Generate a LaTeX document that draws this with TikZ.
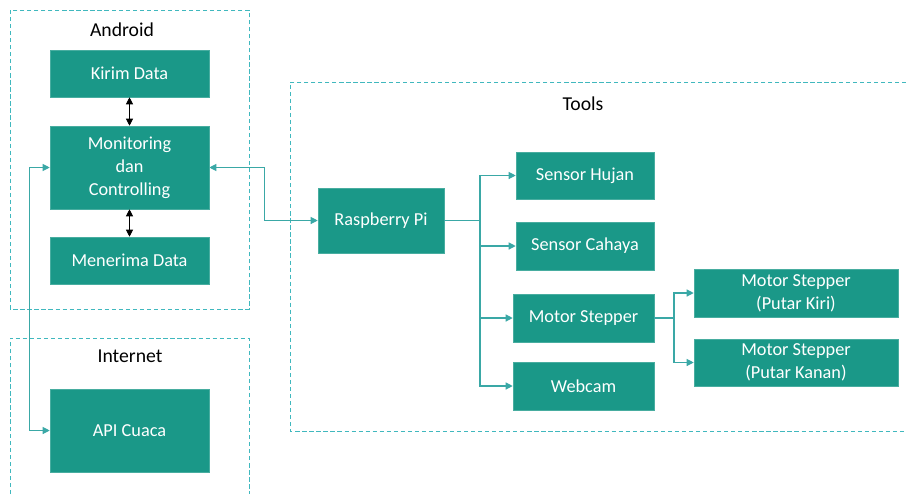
\documentclass[tikz,border=0pt]{standalone}
\usepackage{fontspec}
\setmainfont{Carlito}
\usepackage{tikz}
\usetikzlibrary{arrows.meta}
\definecolor{boxteal}{RGB}{26,152,136}
\definecolor{lineteal}{RGB}{58,168,166}
\definecolor{frameteal}{RGB}{64,184,190}
\def\px{0.025cm}

\begin{document}
\begin{tikzpicture}[x=\px, y=-\px, >={Triangle[length=5pt,width=5pt]}]
		\tikzstyle{box}=[rectangle,fill=boxteal,draw=boxteal!80!white,inner sep=0pt, text=white, align=center, font=\fontsize{13}{16.5}\selectfont]
		\tikzstyle{frame}=[draw=frameteal, dash pattern=on 3pt off 2pt, line width=0.6pt]
		\tikzstyle{title}=[font=\fontsize{14}{16}\selectfont]
		\tikzstyle{link}=[draw=lineteal, line width=0.8pt]

		\useasboundingbox (0,0) rectangle (906,494);

		% Draw frames
		\draw[frame] (10,10) rectangle (249,309);
		\draw[frame] (10,494) -- (10,338) -- (249,338) -- (249,494);
		\draw[frame] (906,82) -- (290,82) -- (290,431) -- (906,431);
		\node[title] (android) at (122,30) {Android};
		\node[title] (internet) at (130,356) {Internet};
		\node[title] (tools) at (583,104) {Tools};

		% Draw boxes
		\node[box, minimum width=159*\px, minimum height=47*\px] (kirim) at (129.5,73.5) {Kirim Data};
		\node[box, minimum width=159*\px, minimum height=83*\px] (monitor) at (129.5,167.5) {Monitoring\\dan\\Controlling};
		\node[box, minimum width=159*\px, minimum height=47*\px] (terima) at (129.5,260.5) {Menerima Data};
		\node[box, minimum width=159*\px, minimum height=83*\px] (api) at (129.5,430.5) {API Cuaca};
		\node[box, minimum width=126*\px, minimum height=65*\px] (rasp) at (381,220.5) {Raspberry Pi};
		\node[box, minimum width=138*\px, minimum height=47*\px] (hujan) at (585,175.5) {Sensor Hujan};
		\node[box, minimum width=138*\px, minimum height=48*\px] (cahaya) at (585,246) {Sensor Cahaya};
		\node[box, minimum width=141*\px, minimum height=48*\px] (motor) at (583.5,318) {Motor Stepper};
		\node[box, minimum width=141*\px, minimum height=48*\px] (webcam) at (583.5,386) {Webcam};
		\node[box, minimum width=204*\px, minimum height=48*\px] (kiri) at (796,293) {Motor Stepper\\(Putar Kiri)};
		\node[box, minimum width=204*\px, minimum height=47*\px] (kanan) at (796,362.5) {Motor Stepper\\(Putar Kanan)};

		% Draw arrows
		\draw[<->, line width=0.6pt] (kirim) -- (monitor);
		\draw[<->, line width=0.6pt] (monitor) -- (terima);
		\draw[link, <->] (monitor.west) -- ++(-20,0) |- (api.west);
		\draw[link, <->] (monitor.east) -- ++(55,0) |- (rasp.west);

		\coordinate (bus) at (480,220.5);
		\draw[link] (rasp.east) -- (bus);
		\draw[link, ->] (bus) |- (hujan.west);
		\draw[link, ->] (bus) |- (cahaya.west);
		\draw[link, ->] (bus) |- (motor.west);
		\draw[link, ->] (bus) |- (webcam.west);

		\coordinate (bus2) at (674,318);
		\draw[link] (motor.east) -- (bus2);
		\draw[link, ->] (bus2) |- (kiri.west);
		\draw[link, ->] (bus2) |- (kanan.west);

		\end{tikzpicture}
\end{document}
